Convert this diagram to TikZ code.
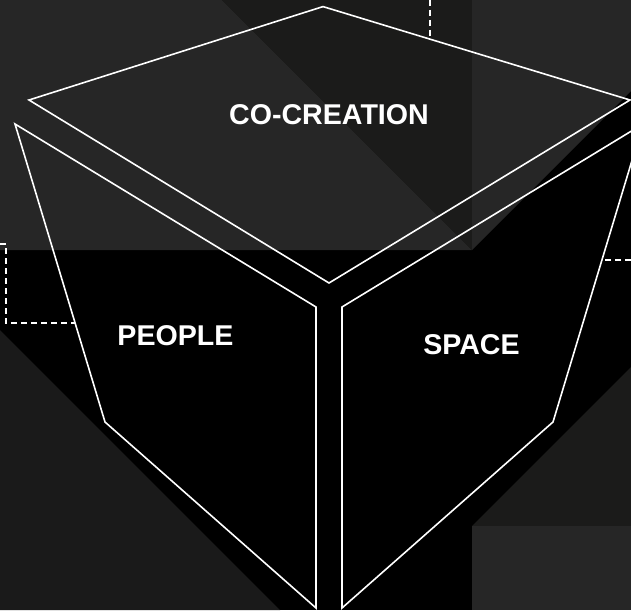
\documentclass[tikz,border=0pt]{standalone}
\usepackage{fontspec}
\setmainfont{Liberation Sans}
\definecolor{gA}{HTML}{262626}
\definecolor{gB}{HTML}{1B1B1A}
\definecolor{gC}{HTML}{1A1A1A}
\begin{document}
\begin{tikzpicture}[x=1pt,y=-1pt,
  cubeline/.style={white, line width=1.6pt, line join=miter},
  dashline/.style={white, line width=1.3pt, dash pattern=on 6pt off 4pt},
  txt/.style={text=white, font=\bfseries\fontsize{28.6}{30}\selectfont, inner sep=0pt}]
\clip (0,0) rectangle (631,610);
% background
\fill[black] (0,0) rectangle (631,610);
\fill[gA] (0,0) -- (222,0) -- (472,250) -- (0,250) -- cycle;
\fill[gB] (222,0) -- (472,0) -- (472,250) -- cycle;
\fill[gA] (472,0) -- (631,0) -- (631,91) -- (472,250) -- cycle;
\fill[gC] (0,330) -- (280,610) -- (0,610) -- cycle;
\fill[gB] (472,526) -- (631,367) -- (631,526) -- cycle;
\fill[gA] (472,526) rectangle (631,610);
% cube coordinates
\coordinate (T) at (323,6.6);
\coordinate (TL) at (29,100);
\coordinate (TR) at (630,100);
\coordinate (TB) at (329,283);
\coordinate (L1) at (15,124);
\coordinate (L2) at (316,307);
\coordinate (L3) at (316,608);
\coordinate (L4) at (105,422);
\coordinate (R1) at (643,124);
\coordinate (R2) at (342,307);
\coordinate (R3) at (342,608);
\coordinate (R4) at (553,422);
% dashed leaders
\coordinate (dT0) at (430,0);
\coordinate (dT1) at (430,39.2);
\coordinate (dL0) at (0,244);
\coordinate (dLa) at (6,244);
\coordinate (dLb) at (6,323);
\coordinate (dL1) at (75,323);
\coordinate (dR0) at (631,260);
\coordinate (dR1) at (601.5,260);
\draw[dashline] (dT0) -- (dT1);
\draw[dashline] (dL0) -- (dLa) -- (dLb) -- (dL1);
\draw[dashline] (dR0) -- (dR1);
% faces
\draw[cubeline] (T) -- (TR) -- (TB) -- (TL) -- cycle;
\draw[cubeline] (L1) -- (L2) -- (L3) -- (L4) -- cycle;
\draw[cubeline] (R1) -- (R2) -- (R3) -- (R4) -- cycle;
% labels
\node[txt] (cc) at (329,114.5) {CO-CREATION};
\node[txt] (pp) at (175.5,335.5) {PEOPLE};
\node[txt] (sp) at (471.5,344.5) {SPACE};
\end{tikzpicture}
\end{document}
